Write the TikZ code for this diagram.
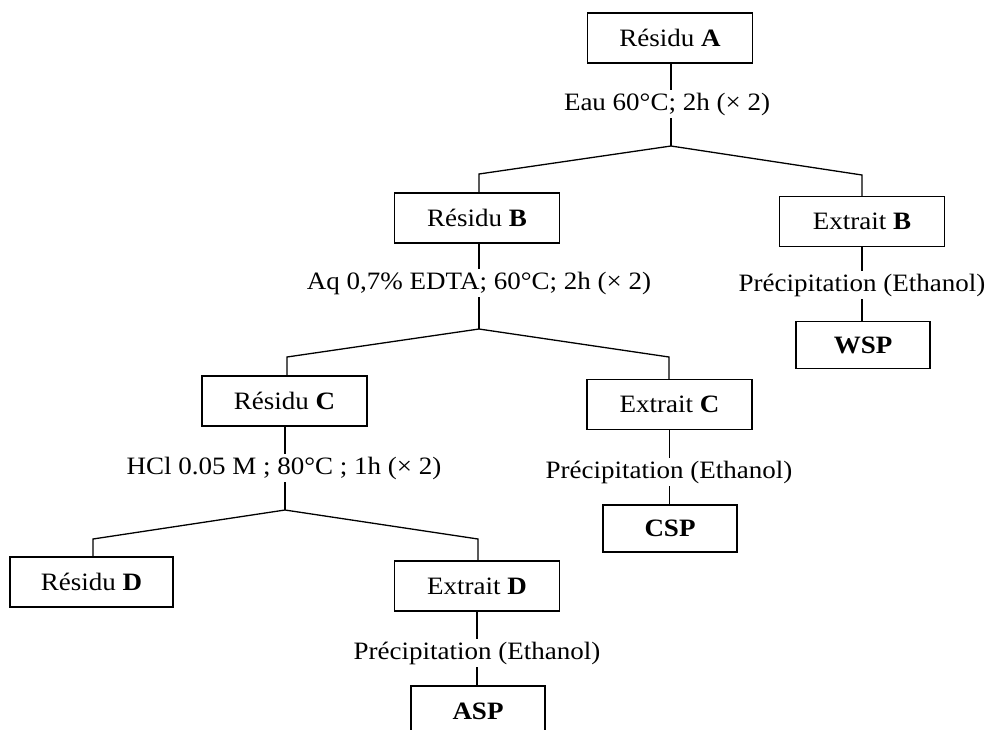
\documentclass[tikz,border=0pt]{standalone}
\usepackage{fontspec}
\setmainfont{Liberation Serif}[FakeStretch=1.08]
\begin{document}
\begin{tikzpicture}[x=1pt,y=-1pt,line width=1.3pt,
  box/.style={draw,minimum width=165pt,minimum height=50pt,inner sep=0pt,font=\fontsize{25}{29}\selectfont},
  pbox/.style={draw,minimum width=134pt,minimum height=47pt,inner sep=0pt,font=\fontsize{25}{29}\selectfont\bfseries},
  lab/.style={fill=white,inner sep=3pt,font=\fontsize{25}{29}\selectfont}]
\useasboundingbox (0,0) rectangle (988,729);
\begin{scope}
\clip (0,0) rectangle (988,729);
% nodes
\node[box] (A) at (670,38) {Résidu \textbf{A}};
\node[box] (B) at (477,218) {Résidu \textbf{B}};
\node[box] (EB) at (862,221.5) {Extrait \textbf{B}};
\node[pbox] (WSP) at (863,345) {WSP};
\node[box] (C) at (284.5,401) {Résidu \textbf{C}};
\node[box] (EC) at (669.5,404.5) {Extrait \textbf{C}};
\node[pbox] (CSP) at (670,528.5) {CSP};
\node[box,minimum width=163pt] (D) at (91.5,582) {Résidu \textbf{D}};
\node[box] (ED) at (477,586) {Extrait \textbf{D}};
\node[pbox,minimum height=50pt] (ASP) at (478,711) {ASP};
% junctions
\coordinate (jA) at (671,146);
\coordinate (jAl) at (479,174);
\coordinate (jAr) at (862,175);
\coordinate (jB) at (479,329);
\coordinate (jBl) at (287,357);
\coordinate (jBr) at (669,357);
\coordinate (jC) at (285,510);
\coordinate (jCl) at (93,539);
\coordinate (jCr) at (478,539);
% connectors
\draw (A.south -| jA) -- (jA);
\draw (jAl |- B.north) -- (jAl) -- (jA) -- (jAr) -- (jAr |- EB.north);
\draw (B.south -| jB) -- (jB);
\draw (jBl |- C.north) -- (jBl) -- (jB) -- (jBr) -- (jBr |- EC.north);
\draw (C.south -| jC) -- (jC);
\draw (jCl |- D.north) -- (jCl) -- (jC) -- (jCr) -- (jCr |- ED.north);
\draw (EB.south) -- (EB.south |- WSP.north);
\draw (EC.south) -- (EC.south |- CSP.north);
\draw (ED.south) -- (ED.south |- ASP.north);
% labels
\node[lab] (lA) at (667,104) {Eau 60°C; 2h (× 2)};
\node[lab] (lB) at (479,283) {Aq 0,7\% EDTA; 60°C; 2h (× 2)};
\node[lab] (lC) at (284,468) {HCl 0.05 M ; 80°C ; 1h (× 2)};
\node[lab] (lEB) at (862,285) {Précipitation (Ethanol)};
\node[lab] (lEC) at (669,472) {Précipitation (Ethanol)};
\node[lab] (lED) at (477,653) {Précipitation (Ethanol)};
\end{scope}
\end{tikzpicture}
\end{document}
